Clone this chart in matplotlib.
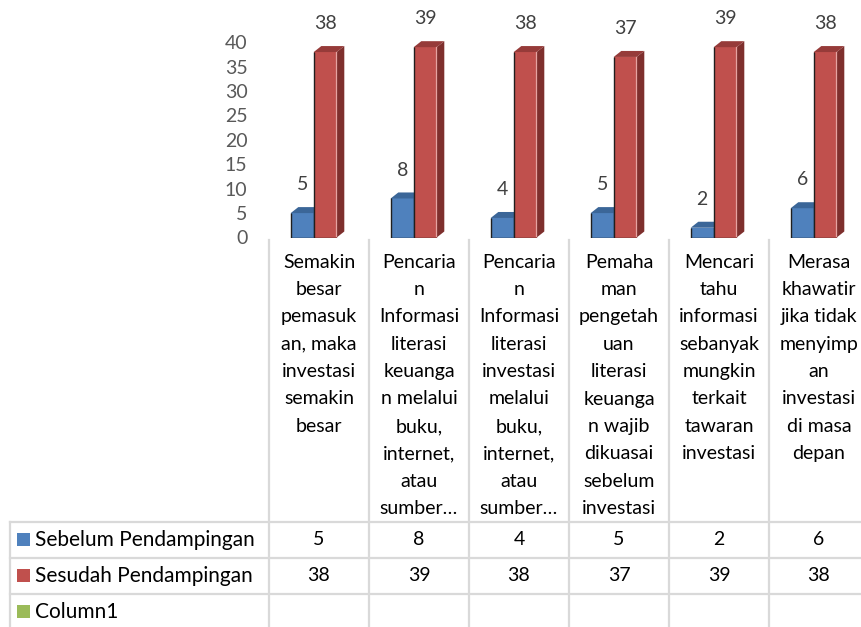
import matplotlib
matplotlib.use("Agg")

import matplotlib.pyplot as plt
from matplotlib.patches import Polygon, Rectangle

plt.rcParams["font.family"] = ["Lato", "DejaVu Sans"]

# Data
categories = [
    "Semakin\nbesar\npemasuk\nan, maka\ninvestasi\nsemakin\nbesar",
    "Pencaria\nn\nInformasi\nliterasi\nkeuanga\nn melalui\nbuku,\ninternet,\natau\nsumber…",
    "Pencaria\nn\nInformasi\nliterasi\ninvestasi\nmelalui\nbuku,\ninternet,\natau\nsumber…",
    "Pemaha\nman\npengetah\nuan\nliterasi\nkeuanga\nn wajib\ndikuasai\nsebelum\ninvestasi",
    "Mencari\ntahu\ninformasi\nsebanyak\nmungkin\nterkait\ntawaran\ninvestasi",
    "Merasa\nkhawatir\njika tidak\nmenyimp\nan\ninvestasi\ndi masa\ndepan",
]
sebelum = [5, 8, 4, 5, 2, 6]
sesudah = [38, 39, 38, 37, 39, 38]
series_names = ["Sebelum Pendampingan", "Sesudah Pendampingan", "Column1"]
yticks = [0, 5, 10, 15, 20, 25, 30, 35, 40]

# Colours (front, top, side)
BLUE = ("#4F81BD", "#3B6698", "#2E5079")
RED = ("#C0504D", "#963B39", "#7E2F2D")
GREEN = "#9BBB59"
GRID = "#D9D9D9"
FS = 14

W, H = 862, 627
zero_px = 237.5   # pixel row of value 0
ppu = 4.88        # pixels per unit
col_left = 269
col_w = 100

fig = plt.figure(figsize=(W / 100, H / 100), dpi=100)

# Bar area
ax = fig.add_axes([col_left / W, 1 - zero_px / H, 6 * col_w / W, zero_px / H])
ax.set_xlim(0, 6)
ax.set_ylim(0, zero_px / ppu)
for s in ax.spines.values():
    s.set_visible(False)
ax.set_xticks([])
ax.set_yticks(yticks)
ax.set_yticklabels([str(t) for t in yticks], fontsize=FS, color="#595959")
ax.tick_params(axis="y", length=0, pad=15.5)
ax.patch.set_visible(False)

bw = 0.23
dx = 0.076
dy = 6 / ppu
x = list(range(len(sebelum)))


def draw_bars(lefts, vals, cols, highlight=None):
    ax.bar(lefts, vals, width=bw, align="edge", color=cols[0], zorder=2)
    for x0, v in zip(lefts, vals):
        x1 = x0 + bw
        ax.add_patch(Polygon([(x0, v), (x0 + dx, v + dy), (x1 + dx, v + dy), (x1, v)],
                             closed=True, facecolor=cols[1], edgecolor="none", zorder=2))
        ax.add_patch(Polygon([(x1, 0), (x1 + dx, dy), (x1 + dx, v + dy), (x1, v)],
                             closed=True, facecolor=cols[2], edgecolor="none", zorder=2))
        if highlight:
            ax.plot([x1 - 0.004, x1 - 0.004], [0.3, v], color=highlight, lw=0.9, zorder=3)
        ax.plot([x0, x0, x1], [v, 0, 0], color="#1f1f1f", lw=1.0, zorder=3,
                solid_capstyle="butt")
        ax.annotate(str(v), (x0 + bw / 2, v + dy), xytext=(0, 16),
                    textcoords="offset points", ha="center", va="center",
                    fontsize=FS, color="#404040")


draw_bars([i + 0.217 for i in x], sebelum, BLUE)
draw_bars([i + 0.217 + bw for i in x], sesudah, RED, highlight="#E6A3A1")

# Category labels and data table (pixel coordinates)
tax = fig.add_axes([0, 0, 1, 1])
tax.set_xlim(0, W)
tax.set_ylim(H, 0)
tax.axis("off")

row_lines = [522, 557.5, 593.5, 629.5]
for y in row_lines:
    tax.plot([10, col_left + 6 * col_w], [y, y], color=GRID, lw=1.6, zorder=1)
tax.plot([10, 10], [row_lines[0], row_lines[-1]], color=GRID, lw=1.6, zorder=1)
for i in range(7):
    xx = col_left + i * col_w
    tax.plot([xx, xx], [240, row_lines[-1]], color=GRID, lw=1.6, zorder=1)

line_h = 27.4
for i, lab in enumerate(categories):
    cx = col_left + (i + 0.5) * col_w
    for j, ln in enumerate(lab.split("\n")):
        tax.text(cx, 262 + j * line_h, ln, ha="center", va="center",
                 fontsize=FS, color="black")

key_cols = [BLUE[0], RED[0], GREEN]
table_vals = [sebelum, sesudah, None]
for r, name in enumerate(series_names):
    cy = (row_lines[r] + row_lines[r + 1]) / 2
    tax.add_patch(Rectangle((17, cy - 6.5), 13, 13, facecolor=key_cols[r],
                            edgecolor="none"))
    tax.text(35, cy, name, ha="left", va="center", fontsize=15, color="black")
    if table_vals[r] is not None:
        for i, v in enumerate(table_vals[r]):
            tax.text(col_left + (i + 0.5) * col_w, cy, str(v), ha="center",
                     va="center", fontsize=FS, color="black")

fig.savefig("out.png", dpi=100)
plt.close(fig)
